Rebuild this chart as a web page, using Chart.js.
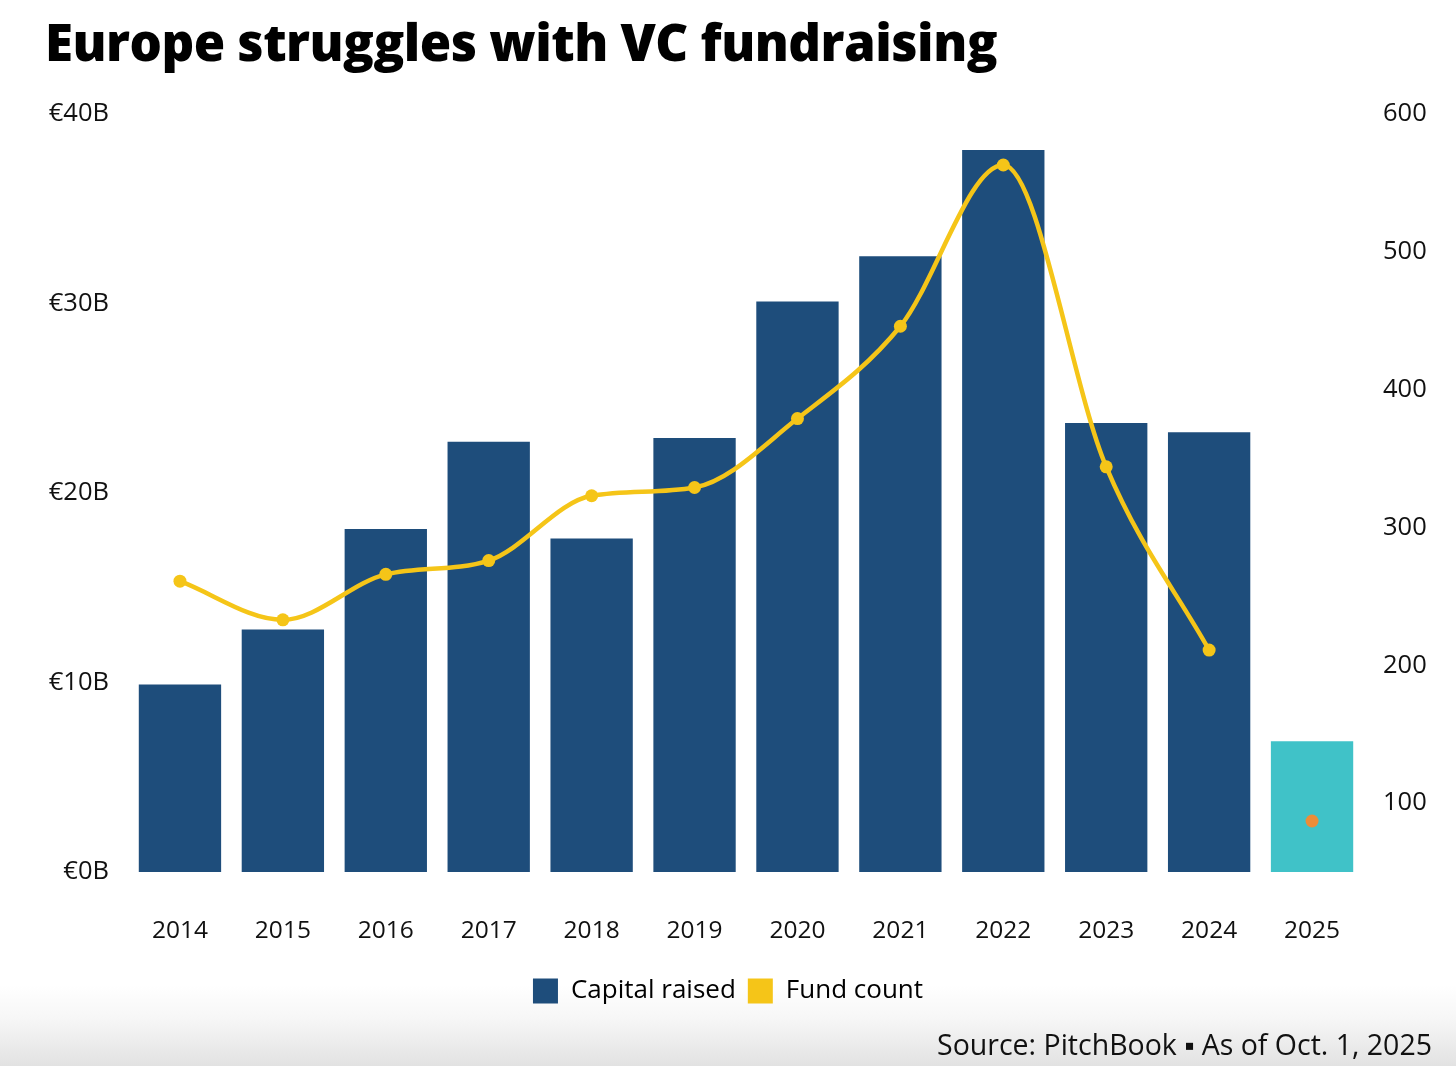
<!DOCTYPE html>
<html>
<head>
<meta charset="utf-8">
<script src="https://cdn.jsdelivr.net/npm/chart.js@4.4.1/dist/chart.umd.min.js"></script>
<style>
  html, body { margin: 0; padding: 0; }
  body {
    width: 1456px; height: 1066px; overflow: hidden; position: relative;
    background: linear-gradient(to bottom, #ffffff 0px, #ffffff 985px, #f6f6f6 1020px, #e2e2e2 1066px);
  }
  #title {
    position: absolute; left: 45px; top: 13px; margin: 0;
    font-family: "Open Sans", sans-serif; font-weight: 800; font-size: 50px; line-height: 60px;
    color: #000; white-space: nowrap; letter-spacing: -0.5px;
  }
  #source {
    position: absolute; right: 24px; top: 1026px;
    font-family: "Open Sans", sans-serif; font-size: 28.5px; line-height: 36px; color: #111;
    white-space: nowrap;
  }
  #wrap { position: absolute; left: 0; top: 0; width: 1456px; height: 1066px; }
</style>
</head>
<body>
<div id="title">Europe struggles with VC fundraising</div>
<div id="wrap"><canvas id="c"></canvas></div>
<div id="source">Source: PitchBook ▪ As of Oct. 1, 2025</div>
<script>
// ---- data ----
const years = ["2014","2015","2016","2017","2018","2019","2020","2021","2022","2023","2024","2025"];
const capitalRaised = [9.9, 12.8, 18.1, 22.7, 17.6, 22.9, 30.1, 32.5, 38.1, 23.7, 23.2, 6.9]; // € billions
const fundCount = [261, 233, 266, 276, 323, 329, 379, 446, 563, 344, 211, 87];
const partialYear = "2025"; // year-to-date (as of Oct. 1)
const leftTicks = [0, 10, 20, 30, 40];
const rightTicks = [100, 200, 300, 400, 500, 600];

const NAVY = "#1e4d7b", TEAL = "#40c2c8", YELLOW = "#f5c518", ORANGE = "#ec8d38";
const pIdx = years.indexOf(partialYear);

// fit title width to the reference span (45px -> 997px)
(function fitTitle() {
  const t = document.getElementById('title');
  const w = t.getBoundingClientRect().width;
  if (w > 0) {
    const fs = Math.max(44, Math.min(54, 50 * 952 / w));
    t.style.fontSize = fs + 'px';
    t.style.top = (13 + (50 - fs) * 0.99) + 'px';
  }
})();

const lineData = fundCount.map((v, i) => i < pIdx ? v : null);
const partialData = fundCount.map((v, i) => i === pIdx ? v : null);

const tickFont = { family: "'Open Sans', sans-serif", size: 24.5 };
const yTickFont = { family: "'Open Sans', sans-serif", size: 25.5 };

new Chart(document.getElementById('c'), {
  type: 'bar',
  data: {
    labels: years,
    datasets: [
      {
        type: 'line', label: 'Fund count', data: lineData, yAxisID: 'y1',
        borderColor: YELLOW, backgroundColor: YELLOW, borderWidth: 4.5,
        pointRadius: 6.5, pointBackgroundColor: YELLOW, pointBorderWidth: 0,
        cubicInterpolationMode: 'monotone', order: 1
      },
      {
        type: 'line', label: 'Fund count (partial year)', data: partialData, yAxisID: 'y1',
        showLine: false, pointRadius: 6.5, pointBackgroundColor: ORANGE, pointBorderWidth: 0,
        borderColor: ORANGE, backgroundColor: ORANGE, order: 1
      },
      {
        type: 'bar', label: 'Capital raised', data: capitalRaised, yAxisID: 'y',
        backgroundColor: years.map((y, i) => i === pIdx ? TEAL : NAVY),
        borderWidth: 0, barPercentage: 0.8, categoryPercentage: 1.0, order: 2
      }
    ]
  },
  options: {
    responsive: true, maintainAspectRatio: false, animation: false,
    layout: { padding: { top: 114, left: 0, right: 0, bottom: 52 } },
    plugins: {
      tooltip: { enabled: false },
      title: { display: false },
      legend: {
        position: 'bottom',
        labels: {
          boxWidth: 25, boxHeight: 25, padding: 12, color: '#111',
          font: { family: "'Open Sans', sans-serif", size: 26 },
          generateLabels: (chart) => {
            const ds = chart.data.datasets;
            return [
              { text: ds[2].label, fillStyle: NAVY, strokeStyle: NAVY, lineWidth: 0, datasetIndex: 2 },
              { text: ds[0].label, fillStyle: YELLOW, strokeStyle: YELLOW, lineWidth: 0, datasetIndex: 0 }
            ];
          }
        }
      }
    },
    scales: {
      x: {
        grid: { display: false, drawTicks: false }, border: { display: false },
        ticks: { color: '#111', font: tickFont, padding: 44, maxRotation: 0 },
        afterFit: (a) => { a.height = 94; }
      },
      y: {
        position: 'left', min: 0, max: 40,
        grid: { display: false, drawTicks: false }, border: { display: false },
        afterBuildTicks: (a) => { a.ticks = leftTicks.map(v => ({ value: v })); },
        ticks: { color: '#111', font: yTickFont, padding: 19.5, callback: (v) => '€' + v + 'B' },
        afterFit: (a) => { a.width = 128.5; }
      },
      y1: {
        position: 'right', min: 50, max: 600,
        grid: { display: false, drawTicks: false }, border: { display: false },
        afterBuildTicks: (a) => { a.ticks = rightTicks.map(v => ({ value: v })); },
        ticks: { color: '#111', font: yTickFont, padding: 19.5 },
        afterFit: (a) => { a.width = 92.5; }
      }
    }
  }
});
</script>
</body>
</html>
